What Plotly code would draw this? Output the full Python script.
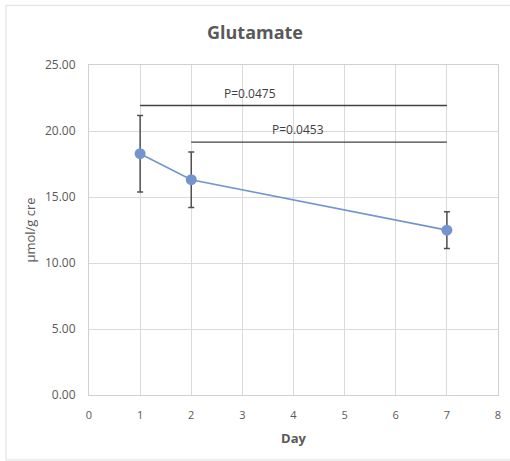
import plotly.graph_objects as go

days = [1, 2, 7]
means = [18.28, 16.31, 12.49]
errs = [2.9, 2.1, 1.4]

bracket1_x = [1, 7]
bracket1_y = [21.93, 21.93]
bracket1_label = "P=0.0475"
bracket1_label_pos = (3.15, 22.85)

bracket2_x = [2, 7]
bracket2_y = [19.16, 19.16]
bracket2_label = "P=0.0453"
bracket2_label_pos = (4.08, 20.1)

x_ticks = [0, 1, 2, 3, 4, 5, 6, 7, 8]
y_ticks = [0, 5, 10, 15, 20, 25]
y_tick_labels = ["0.00", "5.00", "10.00", "15.00", "20.00", "25.00"]

FONT = "Open Sans"
GRAY = "#595959"

fig = go.Figure()
fig.add_trace(go.Scatter(
    x=days, y=means, mode="lines+markers",
    line=dict(color="#7395CE", width=1.6),
    marker=dict(color="#7395CE", size=11),
    error_y=dict(type="data", array=errs, visible=True, color="#505050", thickness=1.5, width=3),
    showlegend=False, hoverinfo="skip",
))
for bx, by in [(bracket1_x, bracket1_y), (bracket2_x, bracket2_y)]:
    fig.add_trace(go.Scatter(x=bx, y=by, mode="lines", line=dict(color="#404040", width=1.3),
                             showlegend=False, hoverinfo="skip"))

for label, pos in [(bracket1_label, bracket1_label_pos), (bracket2_label, bracket2_label_pos)]:
    fig.add_annotation(x=pos[0], y=pos[1], text=label, showarrow=False,
                       font=dict(family=FONT, size=12, color="#404040"))

border = dict(color="#DDDDDD", width=1)
fig.update_layout(
    width=510, height=461,
    margin=dict(l=89, r=12, t=65, b=66, autoexpand=False),
    paper_bgcolor="white", plot_bgcolor="white",
    title=dict(text="<b>Glutamate</b>", x=0.5, xanchor="center", y=0.928, yanchor="middle",
               xref="container", yref="container",
               font=dict(family=FONT, size=18, color=GRAY)),
    xaxis=dict(range=[0, 8], tickvals=x_ticks, showgrid=True, gridcolor="#DADADA", gridwidth=1,
               zeroline=False, showline=True, linecolor="#D0D0D0", mirror=True, automargin=False,
               ticks="", ticklabelstandoff=10, tickfont=dict(family=FONT, size=11, color=GRAY),
               title=dict(text="<b>Day</b>", font=dict(family=FONT, size=13, color=GRAY), standoff=12)),
    yaxis=dict(range=[0, 25], tickvals=y_ticks, ticktext=y_tick_labels, showgrid=True, automargin=False,
               gridcolor="#DADADA", gridwidth=1, zeroline=False, showline=True, linecolor="#D0D0D0",
               mirror=True, ticks="", ticklabelstandoff=10, tickfont=dict(family=FONT, size=12, color=GRAY),
               title=dict(text="μmol/g cre", font=dict(family=FONT, size=13, color=GRAY), standoff=6)),
    shapes=[
        dict(type="line", xref="paper", yref="paper", x0=-0.203, x1=-0.203, y0=-0.197, y1=1.181, line=border),
        dict(type="line", xref="paper", yref="paper", x0=-0.203, x1=1.03, y0=1.181, y1=1.181, line=border),
        dict(type="line", xref="paper", yref="paper", x0=-0.203, x1=1.03, y0=-0.197, y1=-0.197, line=border),
    ],
)

fig.write_html("out.html", config={"displayModeBar": False},
               post_script="document.body.style.margin='0';document.body.style.overflow='hidden';")
